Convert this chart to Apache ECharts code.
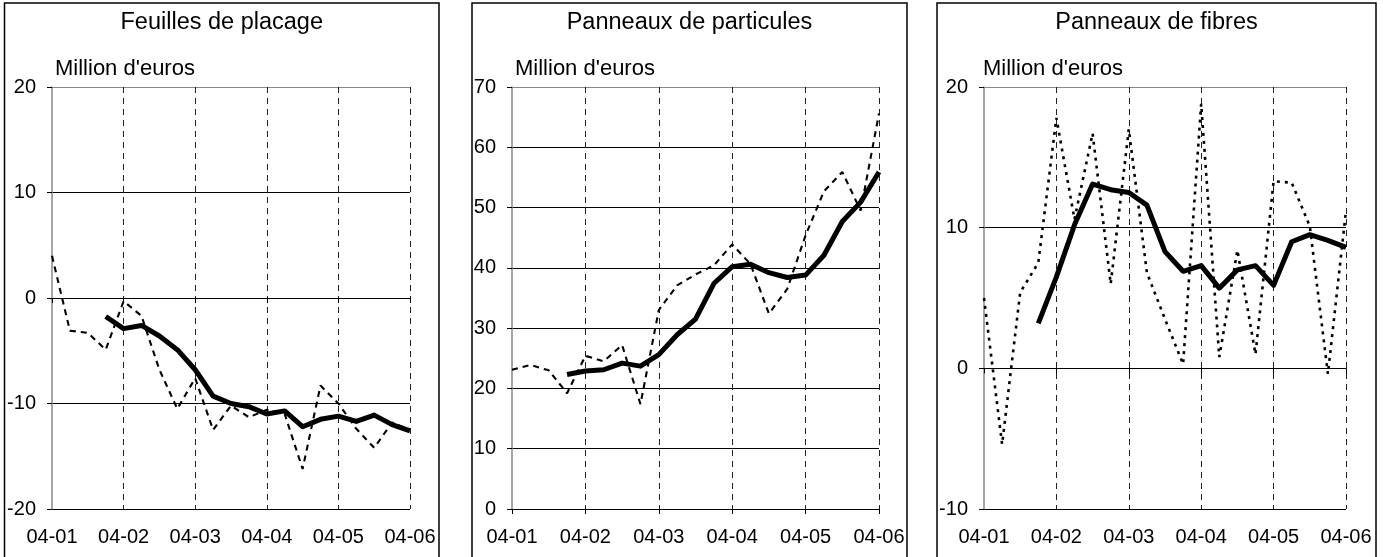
<!DOCTYPE html>
<html>
<head>
<meta charset="utf-8">
<script src="https://cdn.jsdelivr.net/npm/echarts@6/dist/echarts.min.js"></script>
<style>
html,body{margin:0;padding:0;background:#fff;}
#c{width:1383px;height:557px;}
</style>
</head>
<body>
<div id="c"></div>
<script>
// x categories (4 points per month, 04-01 .. 04-06)
const categories = [
  '04-01','04-01 s2','04-01 s3','04-01 s4',
  '04-02','04-02 s2','04-02 s3','04-02 s4',
  '04-03','04-03 s2','04-03 s3','04-03 s4',
  '04-04','04-04 s2','04-04 s3','04-04 s4',
  '04-05','04-05 s2','04-05 s3','04-05 s4',
  '04-06'
];
const tickLabels = ['04-01','04-02','04-03','04-04','04-05','04-06'];

const titles = ['Feuilles de placage','Panneaux de particules','Panneaux de fibres'];
const unitLabel = "Million d'euros";

// Feuilles de placage
const placageRaw = [4.0,-3.1,-3.3,-4.9,-0.3,-1.7,-6.8,-10.5,-7.6,-12.5,-10.2,-11.3,-10.6,-11.0,-16.2,-8.3,-10.0,-12.4,-14.2,-11.8,-12.5];
const placageAvg = [null,null,null,-1.75,-2.9,-2.6,-3.6,-4.9,-6.8,-9.3,-10.0,-10.3,-11.0,-10.7,-12.2,-11.5,-11.2,-11.7,-11.1,-12.0,-12.6];

// Panneaux de particules
const particulesRaw = [23.1,23.9,23.0,19.2,25.4,24.5,27.2,17.4,33.0,37.1,38.9,40.4,43.9,40.6,32.4,36.5,45.4,52.7,55.9,49.5,65.6];
const particulesAvg = [null,null,null,22.3,22.9,23.1,24.2,23.7,25.6,28.9,31.5,37.4,40.2,40.6,39.2,38.4,38.8,42.1,47.7,50.9,55.9];

// Panneaux de fibres
const fibresRaw = [5.0,-5.4,5.4,7.5,17.8,10.6,16.7,6.0,17.0,6.8,3.5,0.3,18.8,0.8,8.4,1.0,13.3,13.2,10.1,-0.4,11.2];
const fibresAvg = [null,null,null,3.2,6.5,10.2,13.1,12.7,12.5,11.6,8.3,6.9,7.3,5.7,7.0,7.3,5.9,9.0,9.5,9.1,8.6];

const yMin = [-20, 0, -10];
const yMax = [20, 70, 20];

const FONT = '"Liberation Sans", Arial, sans-serif';

const grids = [
  {left: 52, top: 87, width: 358, height: 422},
  {left: 512, top: 87, width: 367, height: 422},
  {left: 984, top: 87, width: 362, height: 422}
];
const boxes = [[4.5, 439], [472, 907], [937, 1376]];
const unitX = [55, 515, 983];

const raws = [placageRaw, particulesRaw, fibresRaw];
const avgs = [placageAvg, particulesAvg, fibresAvg];
const rawDash = [[6,5],[6,5],[3,5]];
const rawWidth = [2.1,2.1,2.6];

const xAxes = [], yAxes = [], series = [], graphics = [];
for (let i = 0; i < 3; i++) {
  xAxes.push({
    gridIndex: i, type: 'category', data: categories, boundaryGap: false,
    axisLine: {show: true, lineStyle: {color: '#000', width: 1}},
    axisTick: {show: true, length: 5, interval: 3, lineStyle: {color: '#000'}},
    axisLabel: {
      interval: 3, margin: 18, color: '#000', fontSize: 20, fontFamily: FONT,
      formatter: (v, idx) => tickLabels[Math.round(idx / 4)]
    },
    splitLine: {
      show: true,
      interval: (idx) => idx % 4 === 0 && idx > 0,
      lineStyle: {color: '#222', type: [6, 5], width: 1}
    }
  });
  const nLines = (yMax[i] - yMin[i]) / 10 + 1;
  const cols = [];
  for (let k = 0; k < nLines; k++) cols.push(k === nLines - 1 ? '#888' : '#000');
  yAxes.push({
    gridIndex: i, type: 'value', min: yMin[i], max: yMax[i], interval: 10,
    axisLine: {show: true, lineStyle: {color: '#888', width: 1.5}},
    axisTick: {show: true, length: 5, lineStyle: {color: '#000'}},
    axisLabel: {margin: 16, color: '#000', fontSize: 20, fontFamily: FONT},
    splitLine: {show: true, lineStyle: {color: cols, width: 1}}
  });
  series.push({
    type: 'line', xAxisIndex: i, yAxisIndex: i, data: raws[i],
    symbol: 'none', smooth: false, z: 3,
    lineStyle: {color: '#000', width: rawWidth[i], type: rawDash[i]}
  });
  series.push({
    type: 'line', xAxisIndex: i, yAxisIndex: i, data: avgs[i],
    symbol: 'none', smooth: false, z: 4, connectNulls: false,
    lineStyle: {color: '#000', width: 5, type: 'solid', join: 'round'}
  });
  graphics.push({
    type: 'rect', silent: true, z: 0,
    shape: {x: boxes[i][0], y: 3, width: boxes[i][1] - boxes[i][0], height: 570},
    style: {fill: 'none', stroke: '#000', lineWidth: 1.5}
  });
  graphics.push({
    type: 'text', silent: true,
    x: (boxes[i][0] + boxes[i][1]) / 2, y: 23,
    style: {text: titles[i], fill: '#000', font: '23.5px ' + FONT, textAlign: 'center', textVerticalAlign: 'middle'}
  });
  graphics.push({
    type: 'text', silent: true,
    x: unitX[i], y: 69,
    style: {text: unitLabel, fill: '#000', font: '22px ' + FONT, textAlign: 'left', textVerticalAlign: 'middle'}
  });
}

const chart = echarts.init(document.getElementById('c'), null, {renderer: 'canvas'});
chart.setOption({
  animation: false,
  backgroundColor: '#fff',
  grid: grids,
  xAxis: xAxes,
  yAxis: yAxes,
  series: series,
  graphic: graphics
});
</script>
</body>
</html>
